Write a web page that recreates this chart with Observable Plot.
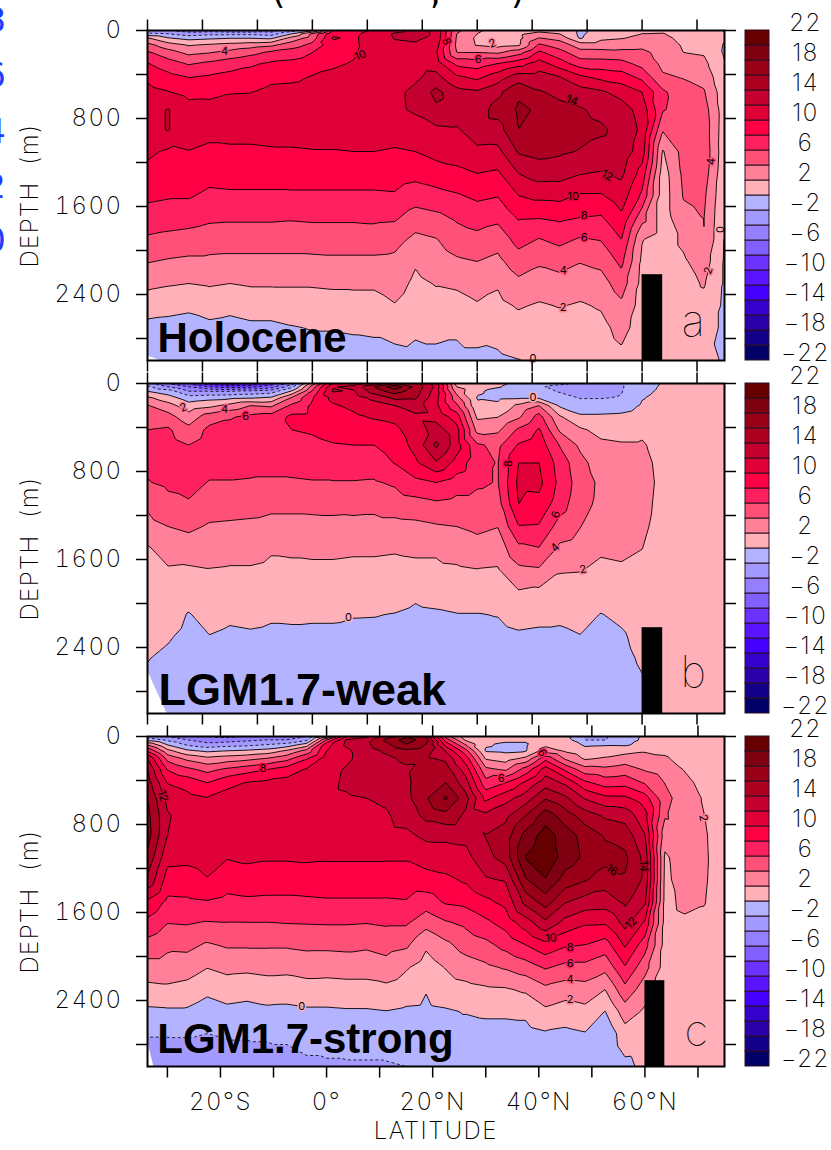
<!DOCTYPE html>
<html><head><meta charset="utf-8">
<style>
html,body{margin:0;padding:0;background:#fff}
#page{position:relative;width:831px;height:1150px;overflow:hidden;background:#fff}
#page svg{position:absolute;left:0;overflow:visible}
.frag{position:absolute;white-space:pre;line-height:34px}
</style>
<script src="https://cdn.jsdelivr.net/npm/d3@7"></script>
<script src="https://cdn.jsdelivr.net/npm/@observablehq/plot@0.6"></script>
</head><body><div id="page"></div>
<script>
const thinFont = 'Inter,"DejaVu Sans",sans-serif';
const boldFont = '"Liberation Sans",Arial,sans-serif';

const depths = [0,30,70,130,200,300,420,560,720,900,1100,1300,1500,1700,1900,2100,2300,2500,2700,3000];
const lats = [-33.75,-30,-26.25,-22.5,-18.75,-15,-11.25,-7.5,-3.75,0,3.75,7.5,11.25,15,18.75,22.5,26.25,30,33.75,37.5,41.25,45,48.75,52.5,56.25,60,63.75,67.5,71.25];
const latsC = [...lats, 75];

const holocene = [
[-4,-1.5,2.2,4.6,6.3,8.1,9.6,10.6,11.3,11.4,10.4,9.4,8.4,7.2,5.7,4.1,2.5,.8,-.5,-2.1],
[-4,-2,.2,2.8,4.8,6.9,8.6,10.1,12.1,12.1,9.7,9,8.2,7,5.4,3.8,2.2,.6,-.6,-1.9],
[-5,-3,-.6,1.8,3.5,5.8,7.9,9.4,10.8,10.9,9.95,9.1,8.2,6.8,5.2,3.6,2,.4,-.8,-1.8],
[-5,-2.5,-.3,2.2,3.9,6.4,8.2,9.5,10.7,10.6,9.6,8.7,7.6,6.4,4.9,3.6,2.2,.9,-.5,-1.7],
[-5.5,-2.5,0,2.6,4.6,7.1,8.6,9.9,10.8,10.6,9.7,8.8,7.7,6.3,4.9,3.5,2,.6,-.7,-1.5],
[-5.5,-2.5,0,3,5.4,7.7,8.8,9.95,10.9,10.6,9.7,8.8,7.7,6.3,4.9,3.5,2.2,.9,-.4,-1.3],
[-5,-3,-.3,3.5,6.4,8.3,9.5,10.5,11,10.7,9.8,8.8,7.7,6.3,4.9,3.5,2.2,.9,-.4,-1.2],
[-3,0,2.8,5,7,8.5,9.6,10.6,11,10.8,9.8,8.9,7.7,6.2,4.9,3.5,2.2,1,-.1,-1],
[-.5,4.5,5,6.5,8,9,10.1,10.8,11.1,10.9,9.9,8.9,7.7,6.3,5,3.5,2.2,1.1,.1,-.9],
[8,9.7,10.2,9.3,9.5,9.8,10.3,11,11.2,11,9.9,8.9,7.7,6.3,5,3.6,2.3,1.2,.1,-.8],
[9,9.5,9.7,9.7,9.8,10.1,10.5,11,11.3,11,10,8.9,7.7,6.3,5,3.6,2.3,1.3,.2,-.7],
[10.3,11,10.9,10.7,10.7,10.8,11,11.3,11.5,11.1,10,8.9,7.7,6.4,5,3.6,2.3,1.3,.3,-.7],
[11.5,12.2,12.1,11.6,11.4,11.4,11.5,11.6,11.6,10.9,9.8,8.9,7.8,6.3,4.7,3.5,2.8,1.9,.7,-.7],
[12.4,12.6,12.3,11.8,11.4,11.3,11.7,12.4,12.3,11.1,10,8.6,7,5.1,3.5,2.2,1.6,1,.3,-.5],
[11.8,11.8,11.6,11,10.3,11,12.6,14.6,13.6,11.6,10.7,9,7.4,5.5,3.9,3,2.1,1.4,.5,-.5],
[4.5,4,3.8,3.6,4,7.5,10.3,12.7,13,11.8,10.9,9.5,7.8,6.3,5,3.7,2.3,1.3,.3,-.5],
[2.2,2,1.6,1.8,4,7,9.5,12.3,13,13,11.6,10,8.4,6.9,5.4,4,2.9,1.8,.8,-.5],
[1.5,1.2,.8,1.2,3.7,8,11,13.5,14.8,13.2,11.5,9.7,8.1,6.5,4.8,3.5,2.2,1.5,.6,-.3],
[1.8,1.6,1.4,1.6,5.2,9.2,12.9,15.7,16.3,16,14.2,12,10,8.2,6.7,5.1,3.5,2.2,1.2,-.05],
[1.5,2.6,4.1,6.3,8.4,10.9,12.8,14.2,15.8,15.3,14.6,12.9,10.5,8.1,5.9,4.3,3,1.8,1,.3],
[.8,2,3.4,5,6.8,8.9,12,13.5,14.6,14.9,14.3,12.8,10.6,8.4,6.5,4.8,3.2,2.1,1.2,.4],
[-.4,-.4,-.2,3,4.7,7,10.3,12.9,14.2,14.6,13.9,12.1,9.8,8,5.8,4.1,2.9,1.8,1.1,.5],
[.8,1.1,1.6,2.9,4.7,6.9,9.4,12.3,13.5,14.3,13.4,11.8,9.8,7.8,6.1,4.5,3.2,2.2,1.4,.7],
[1,1.4,1.9,3.2,4.5,6.7,8.9,11.3,12.9,13.4,13.2,12.4,11.1,9.6,8,6.5,5,3.6,2.7,1.4],
[1.9,2,2.5,3.4,4.5,5.3,7.4,10,11.2,11.6,11,9.2,7.6,4.75,2.1,1.6,1.4,1.2,1,.8],
[1.6,2.1,2.5,3,3.3,3.6,4.2,6.4,6.2,4.2,1.8,1,.9,.9,.9,.9,.9,.8,.8,.7],
[1.2,1.3,1.5,1.8,2,3,3.9,4.6,5,4.9,4.7,4.4,4.1,3.6,2.4,1.7,1.2,1,.8,.6],
[.8,.8,.9,1.2,1.8,2.5,3.3,4.2,4.9,5.2,5.4,5,4.4,4.05,3.98,3,2.2,1.3,.7,.3],
[.4,.4,.2,-.1,-.2,.1,.4,.8,.9,.8,.7,.5,.3,.1,-.1,-.2,-.2,-.3,-.3,-.1]
];

const lgmWeak = [
[-3,-1.5,0,2.4,4.1,5,6,6.6,6.5,5.9,4.3,3.4,1.8,1.5,1.1,.7,.4,.05,-.2,-.3],
[-6,-4,-1,.8,2.8,4.7,6.3,6.8,6.8,6.4,5.4,4,2.8,1.8,1.2,.7,.15,-.3,-.5,-.6],
[-8,-6,-4,-1,.8,2.8,4.6,6,6.6,6.6,5.8,4.4,3,1.7,.8,-.1,-.4,-.6,-.7,-.8],
[-11,-8,-4,-.6,1.4,5,6.5,7,6.7,5.9,4.9,3.8,2.9,1.9,1.3,.6,-.05,-.4,-.6,-.8],
[-13,-9,-4,-.4,2.6,5.8,6.6,7,6.7,5.9,4.8,3.7,2.7,1.8,1,.3,-.3,-.5,-.7,-.8],
[-12,-8.5,-3.5,-.2,4,6.4,7,7.1,6.7,5.8,4.7,3.6,2.7,1.8,1.1,.4,-.2,-.5,-.7,-.8],
[-9,-7,-3,.3,3.6,6.8,7.2,7,6.5,5.8,4.6,3.2,2.2,1.6,.9,.2,-.3,-.5,-.7,-.8],
[-5,-2.5,.2,4.2,6.4,8.4,8,7.2,6.6,5.8,4.6,3.2,2.3,1.6,.9,.25,-.3,-.6,-.7,-.9],
[3,5,6.2,7.8,8.4,8.5,8.2,7.6,6.7,5.9,4.6,3.3,2.4,1.6,.8,.2,-.3,-.6,-.7,-.9],
[10.5,11.9,12.2,10.5,9.8,9.2,8.6,7.9,7,5.9,4.7,3.3,2.4,1.6,.9,.2,-.3,-.6,-.7,-.9],
[11,12.5,11.8,11,10.4,9.7,9,8,7,5.9,4.6,3.4,2.3,1.5,.8,.07,-.35,-.6,-.7,-.9],
[12,16,15,12.5,11.3,10.2,9.2,8,7,5.8,4.5,3.4,2.3,1.5,.8,.05,-.35,-.6,-.7,-.9],
[16,19.5,17,14.5,12,10.5,9.6,8.9,8.1,6.3,4.9,3.4,2.2,1.4,.7,-.05,-.4,-.6,-.7,-.9],
[15,15.5,15,14.3,13,11.6,11,10.6,9.7,7.5,5.2,3.5,2.3,1.6,.3,-.3,-.5,-.6,-.7,-.8],
[11,11.5,11,10.6,10.5,11.4,12.8,14.4,11.8,8,5.6,3.8,2.3,1.6,.6,-.2,-.5,-.6,-.7,-.8],
[1.2,2,3.2,4.8,6.4,9,10.8,10.9,9.3,7,5.3,4,2.8,1.7,.7,-.05,-.4,-.6,-.7,-.8],
[.8,.5,.2,-.1,.2,1.6,3.3,6.3,6.7,6.3,5.3,4.4,3.3,1.9,.9,-.05,-.4,-.6,-.7,-.8],
[.4,.1,-.4,-.4,.4,1.9,3.6,5.5,5.9,5.9,5.2,4.05,2.9,1.8,.8,.05,-.4,-.6,-.7,-.8],
[-.4,-.5,-.6,-.3,2.4,3.6,6.3,8.2,10,10.4,10,7.9,5.5,3.5,1.8,.5,-.2,-.5,-.7,-.8],
[-1.2,-1.8,-1.2,-.3,4,6.7,8.2,9.1,10,10.5,9.4,7.8,5.9,3.7,1.5,.4,-.3,-.5,-.7,-.8],
[-1.6,-2.6,-2.2,-1.2,-.3,2.2,3.7,5.9,7.2,7.5,6.9,5.2,3.6,2.1,1.4,.3,-.3,-.5,-.7,-.8],
[-2.2,-2.8,-2.6,-2.1,-1.2,.3,2.3,3.6,4.6,5,4.7,4.05,3.2,2.05,1.3,.5,-.05,-.5,-.7,-.8],
[-2.2,-2.6,-2.4,-2.1,-1.1,.3,1.4,2.4,3,3.6,3.5,2.9,2.2,1.7,.8,-.05,-.3,-.5,-.7,-.8],
[-2,-2.2,-2.1,-1.9,-.9,.4,1.2,2.2,2.8,3.1,3,2.7,2.3,1.8,1,.3,-.2,-.4,-.6,-.7],
[-.7,-.6,-.4,-.1,.2,.9,1.6,2.2,2.5,2.6,2.5,2.3,2.02,1.4,1.1,.8,.5,.2,-.1,-.2],
[.1,.2,.3,.5,.6,.9,1.1,1.3,1.5,1.6,1.5,1.4,1.2,1,.8,.7,.6,.5,.4,.4],
[.6,.6,.6,.7,.7,.8,.9,1,1.1,1.1,1.1,1,1,.9,.8,.8,.7,.6,.6,.5],
[.6,.6,.6,.7,.7,.8,.9,1,1,1,1,1,.9,.9,.8,.7,.7,.6,.6,.5],
[.5,.5,.5,.6,.6,.7,.8,.9,.9,.9,.9,.9,.8,.8,.7,.7,.6,.6,.5,.5]
];

const lgmStrong = [
[-3,-.8,3.5,7.7,12,14,14.9,16,16.6,16.8,15.5,13.6,9.7,7.4,5.2,3.2,1.4,-.4,-1.9,-3],
[-4,-2.5,-.3,2.6,5.4,7.9,9.9,11.4,12.2,12,10.6,9.2,7.6,6,4.4,3.2,1.6,-.3,-1.9,-2.8],
[-5,-4,-2.5,.4,3.5,6.5,9.2,10.6,11.2,11.3,10.5,9.1,7.7,6.1,4.5,2.9,1.3,-.3,-1.9,-2.7],
[-6,-5,-3.5,-.4,2.5,5.4,8,10.1,10.9,11,10.9,9.9,7.9,5.8,3.7,2.05,.5,-1,-2,-2.6],
[-6.5,-5,-3,0,3,6.4,9.4,10.8,11.2,11.2,10.1,8.9,7.5,5.9,4.2,2.5,1,-.5,-1.9,-2.5],
[-6,-4.5,-2.8,.3,3.4,7.2,10.1,11,11.3,11.3,10.4,9,7.7,5.9,4.2,2.4,.8,-.7,-1.9,-2.4],
[-6,-4,-2.2,.8,4.1,8,10.4,11.2,11.4,11.3,10.2,9,7.6,5.9,4.2,2.6,1,-.4,-1.9,-2.3],
[-5.5,-4,-1.5,2.3,5.3,9,10.7,11.3,11.5,11.3,10.2,9,7.6,6,4.2,2.5,1,-.5,-1.9,-2.2],
[-4,-2.5,.6,4.7,7.8,10.2,11,11.4,11.5,11.4,10.3,9,7.7,6.05,4.4,2.8,1.2,-.3,-1.8,-2.1],
[1,6,9,10,11,11.3,11.5,11.6,11.6,11.4,10.2,9.1,7.8,6.1,4.4,2.7,1.2,-.3,-1.7,-2.1],
[10,12.2,12.4,11.6,11.6,12.2,12.3,11.8,11.6,11.4,10.2,9.1,7.8,6.1,4.5,2.8,1.3,-.2,-1.6,-2.1],
[11.5,13,13.6,13.2,12.9,12.8,12.8,12,11.7,11.4,10.2,9.1,7.8,6,4.3,2.8,1.3,-.2,-1.6,-2.1],
[15,16.5,15.5,14.3,13.6,13.2,13,12.3,11.8,11.5,10.2,9,7.8,6.2,4.7,3.2,1.5,-.05,-1.5,-2.1],
[17,19,18,15.5,14.4,13.7,13.5,13.4,12.7,11.6,10.2,9,7.9,6.2,4.3,2.2,1,-.3,-1.4,-2],
[16,17,16,15,14.3,14.8,15.5,15.8,14.6,12.4,10.9,9.2,7.1,4.6,2.3,1.1,.1,-.4,-1.2,-1.8],
[5,7,9,11.8,13.6,14.9,16,18.3,15.3,12.4,11.1,9.6,8.3,5.7,3.5,2.1,1.1,-.2,-.6,-1.2],
[1,1.6,3.7,6.7,9,11,12.8,14.7,13.6,12.5,11.4,10.3,8.6,6.4,4.8,3,1.4,.1,-.7,-1.5],
[1,.8,.2,-.2,1.8,4.5,6.7,9.5,12.5,14.1,13.3,11.8,9.6,7.5,5.4,3.6,1.7,.3,-.6,-1.3],
[.8,.4,-.3,-.4,1.1,3.7,8,11.3,13.5,15,14.9,12.2,10.6,8.7,6.6,4.2,1.8,.3,-.6,-1.2],
[.8,.4,-.3,-.2,2.5,6.8,10.4,13,16,18.7,20.1,17.8,14.7,10.9,7.9,5,2.3,.4,-.6,-1.2],
[1,1.2,1.4,3,7.4,11,13.1,15.8,19.1,21,21.6,19.9,17,13.4,9.3,6.2,3.5,1.6,-.2,-1],
[.6,.9,1.2,1.7,3.7,7.6,11.6,14.4,17,19,19.1,17.2,14.2,11.2,8.2,5.4,3,1,-.4,-1],
[-2,-2.1,-.4,.7,1.7,4.8,8.4,11.8,15,17.2,17.6,16.2,13.2,10.2,7.9,5.4,3.2,1.4,-.1,-.8],
[-2.2,-2.1,-.3,1,2.2,4.5,7.1,10.5,13.7,15.8,16.7,15,13,10.1,7,4.6,2,-.05,-1.6,-2],
[-.6,-.7,-.4,1.3,2.9,5,7.3,10.4,13.2,15.2,16.4,15.8,14.4,12.6,10.2,7.8,5.4,3,1.2,-.5],
[.2,.3,.8,1.8,2.8,3.8,5.8,8.9,10.7,12.1,13.4,13.6,12.4,9.6,6.8,4.7,2.9,1.7,1.1,.5],
[1,1,1.1,1.7,2.2,3,3.95,4.6,4.2,2.8,1.7,1.6,1.5,1.4,1.3,1.2,1,.9,.8,.6],
[.8,.8,.9,1.1,1.4,1.9,2.5,3,3,3.2,3,2.8,2.4,1.7,1.3,1.1,.9,.8,.7,.6],
[.5,.5,.5,.6,.8,1,1.4,1.8,2,2.3,2.4,2.3,2.1,1.6,1.1,.9,.8,.7,.6,.5],
[.3,.3,.3,.3,.3,.3,.3,.3,.3,.3,.3,.3,.3,.3,.3,.3,.3,.3,.3,.3]
];

const bandLows = [-22,-20,-18,-16,-14,-12,-10,-8,-6,-4,-2,0,2,4,6,8,10,12,14,16,18,20];
const bandColors = ["#000066","#140088","#2a00aa","#3300cc","#4400ff","#5a14ff","#6c33ff","#8060ff","#9480ff","#a399ff","#b3b3ff","#ffb0b8","#ff8098","#ff5078","#ff2060","#ff0044","#df0038","#c40030","#ad0020","#990018","#7f0010","#660000"];
const legendTicks = [22,18,14,10,6,2,-2,-6,-10,-14,-18,-22];
const depthMajor = [0,800,1600,2400];
const depthAll = [0,400,800,1200,1600,2000,2400,2800];
const ticks55 = [-33.75,-23.75,-13.75,-3.75,6.25,16.25,26.25,36.25,46.25,56.25,66.25];
const ticks53 = [-30,-20,-10,0,10,20,30,40,50,60,70];
const latLabels = new Map([[-20,"20°S"],[0,"0°"],[20,"20°N"],[40,"40°N"],[60,"60°N"]]);

const labelsA = [["4",-19.75,191,0,4],["10",5,227,-25,10],["8",20.6,100,70,8],["2",29,118,-20,2],["6",26.4,264,0,6],["14",43.5,636,20,14],["12",49.9,1318,30,12],["10",43.7,1509,0,10],["8",45.7,1682,0,8],["6",45.7,1882,0,6],["4",41.9,2182,0,4],["2",41.9,2518,0,2],["0",36.4,2982,0,0],["4",68.8,1191,-85,4],["2",68.3,2182,-70,2],["0",70.6,1809,-90,0]];
const labelsB = [["2",-27.2,218,-20,2],["4",-19.75,236,0,4],["6",-15.9,300,-5,6],["0",2.8,2127,0,0],["0",36.4,127,0,0],["8",31.9,727,-90,8],["6",40.6,1191,-75,6],["4",40.4,1491,-45,4],["2",45.5,1691,-10,2]];
const labelsC = [["8",-12,295,0,8],["12",-30.9,541,75,12],["0",-4.7,2450,0,0],["6",32.9,386,0,6],["16",53.8,1214,35,16],["14",59.8,1177,90,14],["12",57.4,1695,-45,12],["10",42.3,1832,-5,10],["8",45.9,1914,0,8],["6",45.9,2059,0,6],["4",45.9,2205,0,4],["2",45.9,2395,0,2],["2",71,741,80,2],["6",40.6,150,60,6]];

const panels = [
 {top:30,  grid:holocene, lat:lats,  dom:[-33.75,71.25], topTicks:ticks55, botTicks:ticks55, h:390, title:"Holocene", tSize:42, tPos:[-31.93,2927], letter:"a", lPos:[65.7,2645], labels:labelsA, floor:[[-33.75,2960],[-31.4,3000]], box:[56.25,60]},
 {top:383, grid:lgmWeak,  lat:lats,  dom:[-33.75,71.25], topTicks:ticks55, botTicks:ticks55, h:390, title:"LGM1.7-weak", tSize:45, tPos:[-31.75,2927], letter:"b", lPos:[65.7,2635], labels:labelsB, floor:[[-33.75,2609],[-30.2,3000]], box:[56.25,60]},
 {top:735.5,grid:lgmStrong,lat:latsC, dom:[-33.75,75],    topTicks:ticks53, botTicks:ticks53, h:435, title:"LGM1.7-strong", tSize:42, tPos:[-31.9,2877], letter:"c", lPos:[69.8,2690], labels:labelsC, floor:[[-33.75,2768],[-32.56,3000]], box:[60,63.75], bottom:true}
];

const page = document.getElementById("page");
const colorOpt = {type:"threshold",domain:bandLows.slice(1),range:bandColors};
const posT = bandLows.filter(t=>t>=0), negT = bandLows.filter(t=>t<0&&t>-22);
const thinStyle = {background:"transparent",fontFamily:thinFont,fontSize:"24px",fontWeight:"200",letterSpacing:"1.5px",color:"black"};

for (const p of panels) {
  const pts = p.grid.flatMap((col,i)=>col.map((v,j)=>({lat:p.lat[i],d:depths[j],v})));
  const base = {x:"lat",y:"d",value:"v",interpolate:"barycentric",pixelSize:1};
  const blank = ()=>"";
  const botFmt = p.bottom ? (d=>latLabels.get(d)||"") : blank;
  const chart = Plot.plot({
    width:831,height:p.h,marginLeft:147,marginRight:107,marginTop:20,marginBottom:p.h-350,
    style:thinStyle,
    x:{domain:p.dom,axis:null},y:{domain:[0,3000],reverse:true,axis:null},color:colorOpt,
    marks:[
      Plot.contour(pts,{...base,fill:"value",thresholds:bandLows,stroke:"none"}),
      Plot.contour(pts,{...base,thresholds:negT,fill:"none",stroke:"#000",strokeWidth:.8,strokeDasharray:"3,2.5"}),
      Plot.contour(pts,{...base,thresholds:posT,fill:"none",stroke:"#000",strokeWidth:.9}),
      Plot.areaY(p.floor,{x:d=>d[0],y1:d=>d[1],y2:()=>3000,fill:"white"}),
      Plot.rect([p.box],{x1:d=>d[0],x2:d=>d[1],y1:()=>2220,y2:()=>3000,fill:"black"}),
      Plot.text(p.labels,{x:d=>d[1],y:d=>d[2],text:d=>d[0],rotate:d=>d[3],stroke:d=>d[4],fill:"black",strokeWidth:3,fontSize:11,fontWeight:400}),
      Plot.text([p.title],{x:()=>p.tPos[0],y:()=>p.tPos[1],text:d=>d,fontFamily:boldFont,fontWeight:"bold",fontSize:p.tSize,textAnchor:"start",lineAnchor:"bottom",fill:"black"}),
      Plot.text([p.letter],{x:()=>p.lPos[0],y:()=>p.lPos[1],text:d=>d,fontSize:44,fontWeight:100,fill:"black",textAnchor:"middle"}),
      Plot.frame({stroke:"black",strokeWidth:2}),
      Plot.axisY({anchor:"left",ticks:depthAll,tickSize:11,tickPadding:14,strokeWidth:1.5,label:null,tickFormat:d=>depthMajor.includes(d)?String(d):""}),
      Plot.axisY({anchor:"right",ticks:depthAll,tickSize:11,strokeWidth:1.5,label:null,tickFormat:blank}),
      Plot.axisX({anchor:"top",ticks:p.topTicks,tickSize:11.5,strokeWidth:1.5,label:null,tickFormat:blank}),
      Plot.axisX({anchor:"bottom",ticks:p.botTicks,tickSize:11.5,tickPadding:15,strokeWidth:1.5,label:null,tickFormat:botFmt}),
      Plot.text(["DEPTH  (m)"],{y:()=>1500,frameAnchor:"left",dx:-117,rotate:-90,text:d=>d,textAnchor:"middle",fontSize:24,fill:"black"}),
      ...(p.bottom?[Plot.text(["LATITUDE"],{x:()=>20.6,frameAnchor:"bottom",dy:72,text:d=>d,fontSize:24,fill:"black"})]:[])
    ]
  });
  chart.querySelectorAll('[font-family*="Liberation"],[font-size="11"]').forEach(g=>{g.style.letterSpacing="0";});
  chart.style.top=(p.top-20)+"px";
  page.appendChild(chart);

  const legend = Plot.plot({
    width:831,height:370,marginLeft:745,marginRight:62,marginTop:20,marginBottom:20,
    style:thinStyle,
    x:{domain:[0,1],axis:null},y:{domain:[-22,22],axis:null},color:colorOpt,
    marks:[
      Plot.rect(bandLows,{x1:()=>0,x2:()=>1,y1:d=>d,y2:d=>d+2,fill:d=>d,stroke:"#2b1020",strokeWidth:1,inset:0}),
      Plot.text(legendTicks,{x:()=>1,dx:36,y:d=>d,text:d=>d<0?"\u2212"+(-d):String(d),lineAnchor:"bottom",textAnchor:"middle",fontSize:24,fill:"black"})
    ]
  });
  legend.style.top=(p.top-20)+"px";
  page.appendChild(legend);
}

const blueDigits=[["8",32],["6",87],["4",143],["2",198],["0",252]];
for(const [t,b] of blueDigits){
  const s=document.createElement("div");
  s.className="frag";s.textContent=t;
  s.style.cssText+=`right:${831-6}px;top:${b-29}px;font-size:34px;color:#1f3cff;font-family:"DejaVu Sans",sans-serif`;
  page.appendChild(s);
}
const titleBits=[["(",272],[",",430],[")",511]];
for(const [t,x] of titleBits){
  const s=document.createElement("div");
  s.className="frag";s.textContent=t;
  s.style.cssText+=`left:${x}px;top:-25px;font-size:34px;color:#000;font-family:"DejaVu Sans",sans-serif`;
  page.appendChild(s);
}
</script></body></html>
